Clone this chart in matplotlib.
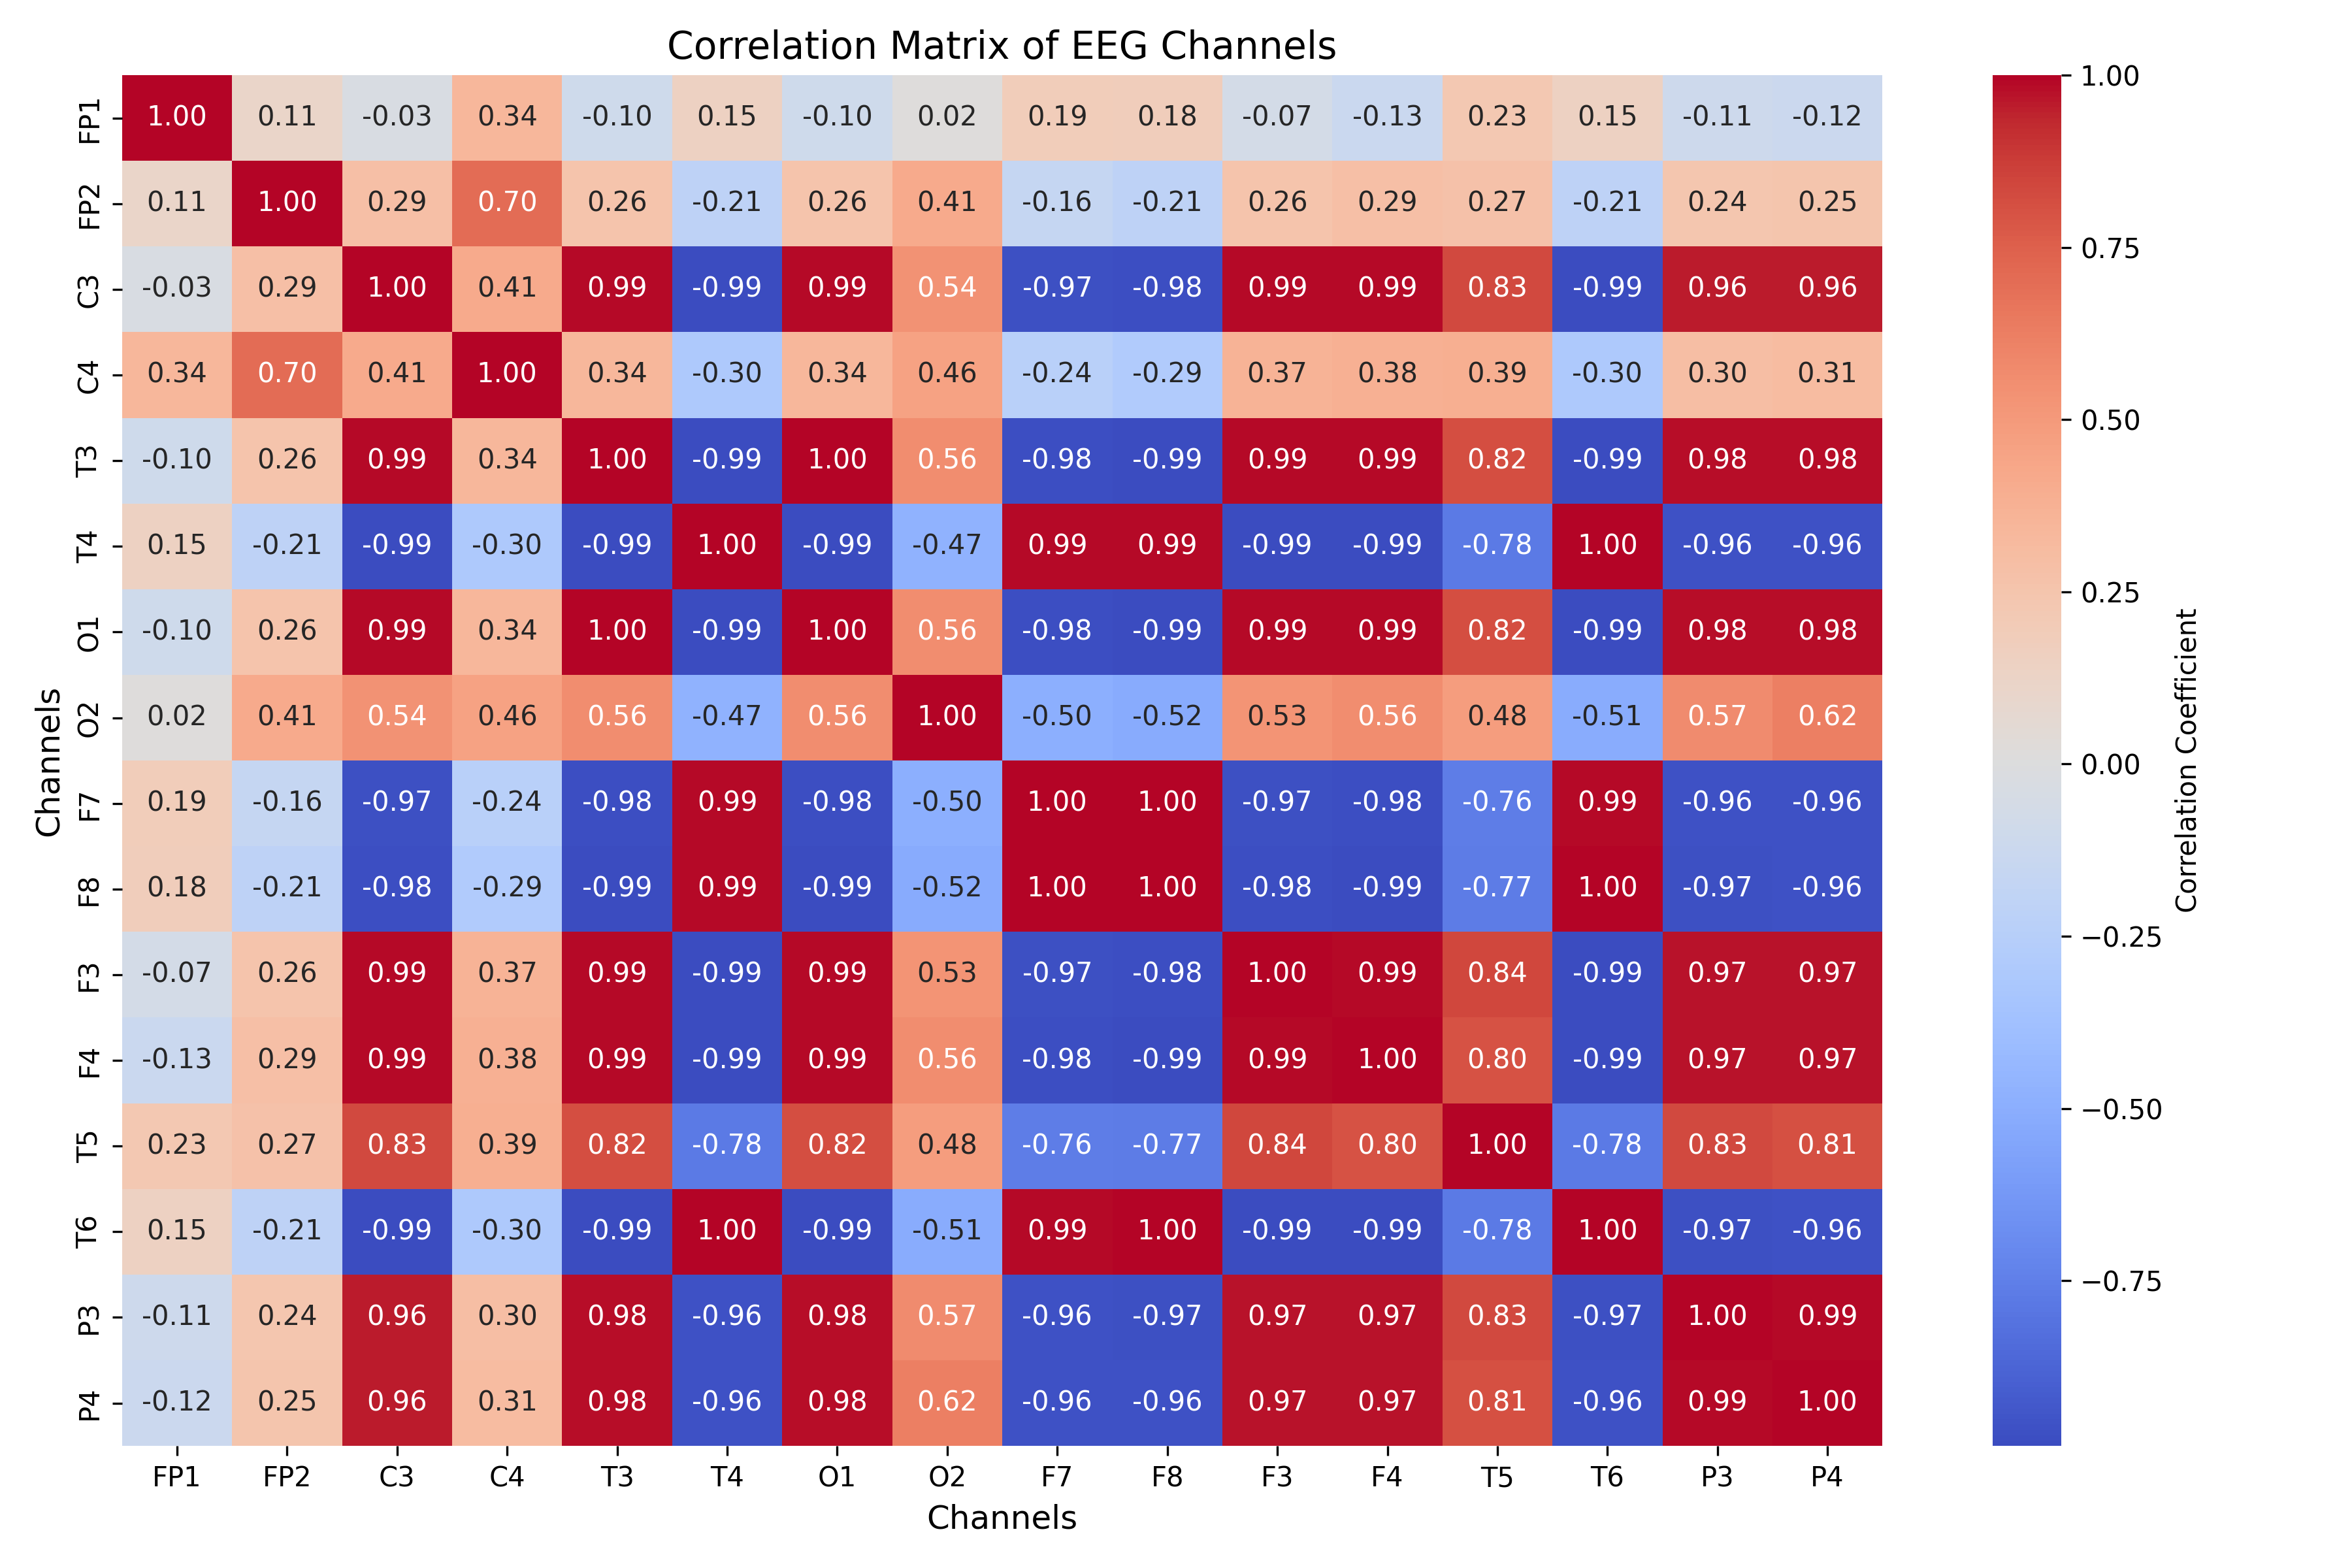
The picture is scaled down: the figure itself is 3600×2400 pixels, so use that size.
import numpy as np
import pandas as pd
import matplotlib
matplotlib.use('Agg')
import matplotlib.pyplot as plt
import seaborn as sns

channels = ["FP1", "FP2", "C3", "C4", "T3", "T4", "O1", "O2",
            "F7", "F8", "F3", "F4", "T5", "T6", "P3", "P4"]

r_fp1 = [1.00, 0.11, -0.03, 0.34, -0.10, 0.15, -0.10, 0.02, 0.19, 0.18, -0.07, -0.13, 0.23, 0.15, -0.11, -0.12]
r_fp2 = [0.11, 1.00, 0.29, 0.70, 0.26, -0.21, 0.26, 0.41, -0.16, -0.21, 0.26, 0.29, 0.27, -0.21, 0.24, 0.25]
r_c3 = [-0.03, 0.29, 1.00, 0.41, 0.99, -0.99, 0.99, 0.54, -0.97, -0.98, 0.99, 0.99, 0.83, -0.99, 0.96, 0.96]
r_c4 = [0.34, 0.70, 0.41, 1.00, 0.34, -0.30, 0.34, 0.46, -0.24, -0.29, 0.37, 0.38, 0.39, -0.30, 0.30, 0.31]
r_t3 = [-0.10, 0.26, 0.99, 0.34, 1.00, -0.99, 1.00, 0.56, -0.98, -0.99, 0.99, 0.99, 0.82, -0.99, 0.98, 0.98]
r_t4 = [0.15, -0.21, -0.99, -0.30, -0.99, 1.00, -0.99, -0.47, 0.99, 0.99, -0.99, -0.99, -0.78, 1.00, -0.96, -0.96]
r_o1 = [-0.10, 0.26, 0.99, 0.34, 1.00, -0.99, 1.00, 0.56, -0.98, -0.99, 0.99, 0.99, 0.82, -0.99, 0.98, 0.98]
r_o2 = [0.02, 0.41, 0.54, 0.46, 0.56, -0.47, 0.56, 1.00, -0.50, -0.52, 0.53, 0.56, 0.48, -0.51, 0.57, 0.62]
r_f7 = [0.19, -0.16, -0.97, -0.24, -0.98, 0.99, -0.98, -0.50, 1.00, 1.00, -0.97, -0.98, -0.76, 0.99, -0.96, -0.96]
r_f8 = [0.18, -0.21, -0.98, -0.29, -0.99, 0.99, -0.99, -0.52, 1.00, 1.00, -0.98, -0.99, -0.77, 1.00, -0.97, -0.96]
r_f3 = [-0.07, 0.26, 0.99, 0.37, 0.99, -0.99, 0.99, 0.53, -0.97, -0.98, 1.00, 0.99, 0.84, -0.99, 0.97, 0.97]
r_f4 = [-0.13, 0.29, 0.99, 0.38, 0.99, -0.99, 0.99, 0.56, -0.98, -0.99, 0.99, 1.00, 0.80, -0.99, 0.97, 0.97]
r_t5 = [0.23, 0.27, 0.83, 0.39, 0.82, -0.78, 0.82, 0.48, -0.76, -0.77, 0.84, 0.80, 1.00, -0.78, 0.83, 0.81]
r_t6 = [0.15, -0.21, -0.99, -0.30, -0.99, 1.00, -0.99, -0.51, 0.99, 1.00, -0.99, -0.99, -0.78, 1.00, -0.97, -0.96]
r_p3 = [-0.11, 0.24, 0.96, 0.30, 0.98, -0.96, 0.98, 0.57, -0.96, -0.97, 0.97, 0.97, 0.83, -0.97, 1.00, 0.99]
r_p4 = [-0.12, 0.25, 0.96, 0.31, 0.98, -0.96, 0.98, 0.62, -0.96, -0.96, 0.97, 0.97, 0.81, -0.96, 0.99, 1.00]

corr = pd.DataFrame([r_fp1, r_fp2, r_c3, r_c4, r_t3, r_t4, r_o1, r_o2,
                     r_f7, r_f8, r_f3, r_f4, r_t5, r_t6, r_p3, r_p4],
                    index=channels, columns=channels)

fig, ax = plt.subplots(figsize=(12, 8))
sns.heatmap(corr, annot=True, fmt=".2f", cmap="coolwarm", ax=ax,
            cbar_kws={"label": "Correlation Coefficient"})
ax.set_title("Correlation Matrix of EEG Channels", fontsize=14)
ax.set_xlabel("Channels", fontsize=12)
ax.set_ylabel("Channels", fontsize=12)

plt.tight_layout()
plt.savefig("out.png", dpi=300)
plt.close()
